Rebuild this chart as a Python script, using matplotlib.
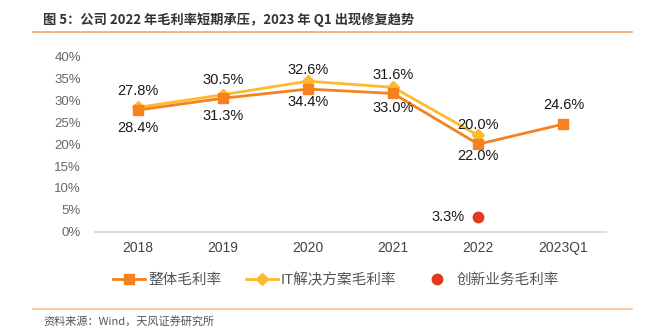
import matplotlib
matplotlib.use("Agg")
import matplotlib.pyplot as plt
from matplotlib.lines import Line2D
import numpy as np

plt.rcParams["font.family"] = ["Liberation Sans", "Noto Sans CJK SC", "DejaVu Sans"]
plt.rcParams["axes.unicode_minus"] = False

# 数据
years = ["2018", "2019", "2020", "2021", "2022", "2023Q1"]
total_margin = [27.8, 30.5, 32.6, 31.6, 20.0, 24.6]        # 整体毛利率
it_margin = [28.4, 31.3, 34.4, 33.0, 22.0, np.nan]         # IT解决方案毛利率
innov_year = "2022"
innov_margin = 3.3                                          # 创新业务毛利率

c_total = "#F5821F"
c_it = "#FDBA2C"
c_innov = "#E03A1C"
cjk = ["Noto Sans CJK SC", "DejaVu Sans"]

fig = plt.figure(figsize=(6.5, 3.32), dpi=100)
ax = fig.add_axes([95 / 650, 1 - 231.7 / 332, 511 / 650, 175 / 332])

x = np.arange(len(years))
ax.plot(x, it_margin, color=c_it, lw=2, marker="D", ms=6.5, zorder=3)
ax.plot(x, total_margin, color=c_total, lw=2, marker="s", ms=7.5, zorder=4)
ax.plot([years.index(innov_year)], [innov_margin], ls="none", marker="o",
        ms=7.5, color=c_innov, zorder=4)

# 数据标签
for i, v in enumerate(total_margin):
    ax.annotate(f"{v:.1f}%", (i, v), xytext=(0, 13.5), textcoords="offset points",
                ha="center", va="center", fontsize=10.5, color="#1a1a1a", zorder=5)
for i, v in enumerate(it_margin):
    if np.isnan(v):
        continue
    ax.annotate(f"{v:.1f}%", (i, v), xytext=(0, -15), textcoords="offset points",
                ha="center", va="center", fontsize=10.5, color="#1a1a1a", zorder=5)
ax.annotate(f"{innov_margin:.1f}%", (years.index(innov_year), innov_margin),
            xytext=(-10, 0), textcoords="offset points",
            ha="right", va="center", fontsize=10.5, color="#1a1a1a")

ax.set_xlim(-0.5, len(years) - 0.5)
ax.set_ylim(0, 40)
ax.set_yticks(range(0, 41, 5))
ax.set_yticklabels([f"{t}%" for t in range(0, 41, 5)])
ax.set_xticks(x)
ax.set_xticklabels(years)
ax.tick_params(axis="y", length=0, pad=10, labelsize=9.5, labelcolor="#666666")
ax.tick_params(axis="x", length=0, pad=7, labelsize=10, labelcolor="#444444")
for s in ["top", "right", "left"]:
    ax.spines[s].set_visible(False)
ax.spines["bottom"].set_color("#DDDDDD")
ax.spines["bottom"].set_linewidth(1.5)

# 图例
handles = [
    Line2D([], [], color=c_total, lw=2, marker="s", ms=7.5),
    Line2D([], [], color=c_it, lw=2, marker="D", ms=6.5),
    Line2D([], [], color=c_innov, ls="none", marker="o", ms=7.5),
]
labels = ["整体毛利率", "IT解决方案毛利率", "创新业务毛利率"]
fig.legend(handles, labels, loc="center", bbox_to_anchor=(336 / 650, 1 - 280 / 332),
           ncol=3, frameon=False, handlelength=2.2, handletextpad=0.2,
           columnspacing=1.7, prop={"size": 10.5, "family": ["Liberation Sans", "Noto Sans CJK SC"]},
           labelcolor="#555555")

# 标题与来源
fig.text(43 / 650, 1 - 20 / 332, "图 5：公司 2022 年毛利率短期承压，2023 年 Q1 出现修复趋势",
         ha="left", va="center", fontsize=9.5, fontweight="bold", color="#333333", family=cjk)
fig.add_artist(Line2D([33 / 650, 632 / 650], [1 - 31.7 / 332] * 2, color="#F5A86A", lw=1.2))
fig.add_artist(Line2D([33 / 650, 632 / 650], [1 - 308.7 / 332] * 2, color="#F9C08F", lw=1.2))
fig.text(43 / 650, 1 - 321.3 / 332, "资料来源：Wind，天风证券研究所",
         ha="left", va="center", fontsize=8, color="#555555", family=cjk)

fig.savefig("out.png", dpi=100, facecolor="white")
